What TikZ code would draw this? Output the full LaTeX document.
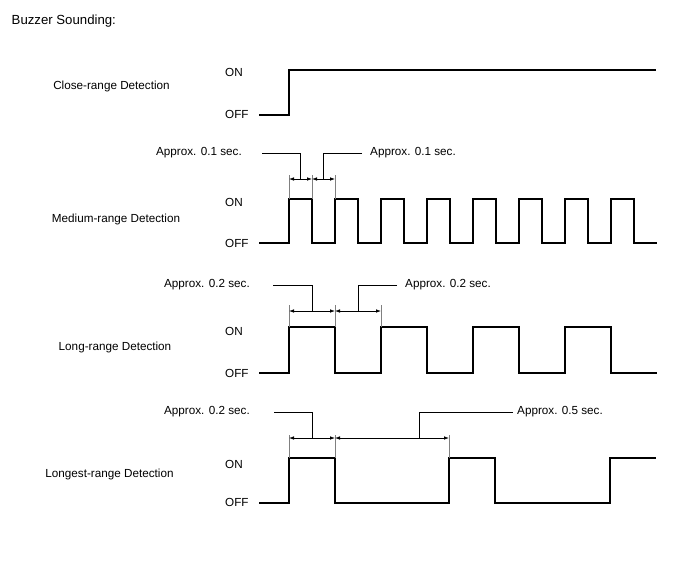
\documentclass[tikz,border=0pt]{standalone}
\usepackage{fontspec}
\setmainfont{Liberation Sans}
\usetikzlibrary{arrows.meta}
\begin{document}
\begin{tikzpicture}[x=1pt,y=-1pt,
    every node/.style={font=\fontsize{11.7}{14}\selectfont,inner sep=0pt},
    signal/.style={line width=1.4pt},
    dimline/.style={line width=0.8pt,{Latex[length=5pt,width=3.6pt]}-{Latex[length=5pt,width=3.6pt]}},
    extline/.style={line width=0.6pt,gray},
    leader/.style={line width=0.9pt}]
    \useasboundingbox (0,0) rectangle (688,560);
    \node[anchor=west,font=\fontsize{13.2}{16}\selectfont] (title) at (11.5,21.5) {Buzzer Sounding:};
    % close-range
    \node (close) at (111.5,86) {Close-range Detection};
    \node[anchor=west] (closeon) at (225,72) {ON};
    \node[anchor=west] (closeoff) at (225,114) {OFF};
    \draw[signal] (259,115) -- (289,115) -- (289,70) -- (656,70);
    % medium-range
    \node (medium) at (116,219) {Medium-range Detection};
    \node[anchor=west] (mediumon) at (225,202) {ON};
    \node[anchor=west] (mediumoff) at (225,243) {OFF};
    \draw[signal] (259,243) -- (289,243)
        \foreach \t in {289,335,...,611} {-- (\t,199) -- (\t+23,199) -- (\t+23,243) -- (\t+46,243)};
    \foreach \t in {289,312,335} \draw[extline] (\t,175) -- (\t,199);
    \draw[dimline] (289,179) -- (312,179) coordinate[midway] (m1);
    \draw[dimline] (312,179) -- (335,179) coordinate[midway] (m2);
    \node[anchor=east] (mleft) at (242,153) {Approx. 0.1 sec.};
    \node[anchor=west] (mright) at (370,153) {Approx. 0.1 sec.};
    \draw[leader] (mleft.east) ++(20,0) -| (m1);
    \draw[leader] (mright.west) ++(-8,0) -| (m2);
    % long-range
    \node (long) at (115,347) {Long-range Detection};
    \node[anchor=west] (longon) at (225,331) {ON};
    \node[anchor=west] (longoff) at (225,373) {OFF};
    \draw[signal] (259,373) -- (289,373)
        \foreach \t in {289,381,473,565} {-- (\t,327) -- (\t+46,327) -- (\t+46,373) -- (\t+92,373)};
    \foreach \t in {289,335,381} \draw[extline] (\t,305) -- (\t,327);
    \draw[dimline] (289,311) -- (335,311) coordinate[midway] (l1);
    \draw[dimline] (335,311) -- (381,311) coordinate[midway] (l2);
    \node[anchor=east] (lleft) at (250,285) {Approx. 0.2 sec.};
    \node[anchor=west] (lright) at (405,285) {Approx. 0.2 sec.};
    \draw[leader] (lleft.east) ++(23,0) -| (l1);
    \draw[leader] (lright.west) ++(-8,0) -| (l2);
    % longest-range
    \node (longest) at (109.5,474) {Longest-range Detection};
    \node[anchor=west] (longeston) at (225,464) {ON};
    \node[anchor=west] (longestoff) at (225,502) {OFF};
    \draw[signal] (259,503) -- (289,503) -- (289,458) -- (335,458) -- (335,503) -- (449,503)
        -- (449,458) -- (495,458) -- (495,503) -- (610,503) -- (610,458) -- (656,458);
    \foreach \t in {289,335,449} \draw[extline] (\t,435) -- (\t,458);
    \draw[dimline] (289,438) -- (335,438) coordinate[midway] (g1);
    \draw[dimline] (335,438) -- (449,438) coordinate[pos=0.737] (g2);
    \node[anchor=east] (gleft) at (250,412) {Approx. 0.2 sec.};
    \node[anchor=west] (gright) at (517,412) {Approx. 0.5 sec.};
    \draw[leader] (gleft.east) ++(24,0) -| (g1);
    \draw[leader] (gright.west) ++(-4,0) -| (g2);
\end{tikzpicture}
\end{document}
